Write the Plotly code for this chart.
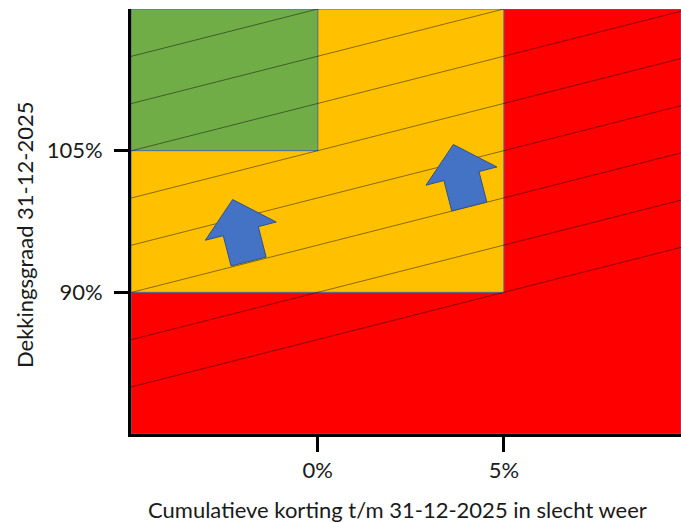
import math
import plotly.graph_objects as go

# ---- data ----
x_range = [-5.02, 9.76]      # cumulatieve korting (%)
y_range = [75, 120]          # dekkingsgraad (%)
x_ticks = [0, 5]
x_tick_labels = ["0%", "5%"]
y_ticks = [90, 105]
y_tick_labels = ["90%", "105%"]

# zones: (x0, x1, y0, y1, colour)
zone_names = ["rood", "oranje", "groen"]
zone_x0 = [-5.02, -5.02, -5.02]
zone_x1 = [9.76, 5, 0]
zone_y0 = [75, 90, 105]
zone_y1 = [120, 120, 120]
zone_colors = ["#FF0000", "#FFC000", "#70AD47"]

# diagonal hatch lines: y = x + c
hatch_offsets = [85, 90, 95, 100, 105, 110, 115, 120]

# arrows (base position in data units)
arrow_x = [-1.86, 4.07]
arrow_y = [93.26, 99.09]

FONT = "Lato"

fig = go.Figure()

# hatch lines as traces
for c in hatch_offsets:
    xs = [x_range[0], x_range[1]]
    ys = [x + c for x in xs]
    fig.add_trace(go.Scatter(x=xs, y=ys, mode="lines",
                             line=dict(color="rgba(0,0,0,0.5)", width=0.9),
                             hoverinfo="skip", showlegend=False))

shapes = []
for x0, x1, y0, y1, col in zip(zone_x0, zone_x1, zone_y0, zone_y1, zone_colors):
    shapes.append(dict(type="rect", xref="x", yref="y", x0=x0, x1=x1, y0=y0, y1=y1,
                       fillcolor=col, line=dict(color="#41719C", width=1), layer="below"))

# arrow outline in local pixel frame (u right, v up), rotated to be perpendicular to hatch
theta = math.radians(14.4)
local = [(-18.1, 0), (-18.1, 31.4), (-36.6, 31.4), (0, 64), (36.6, 31.4), (18.1, 31.4), (18.1, 0)]
pts = []
for u, v in local:
    px = u * math.cos(theta) - v * math.sin(theta)
    py = u * math.sin(theta) + v * math.cos(theta)
    pts.append((px, py))
path = "M " + " L ".join(f"{px:.2f},{py:.2f}" for px, py in pts) + " Z"
for ax_, ay_ in zip(arrow_x, arrow_y):
    shapes.append(dict(type="path", xref="x", yref="y", xsizemode="pixel", ysizemode="pixel",
                       xanchor=ax_, yanchor=ay_, path=path,
                       fillcolor="#4472C4", line=dict(color="#2F528F", width=1), layer="above"))

fig.update_layout(
    width=681, height=523,
    margin=dict(l=131, r=0, t=9, b=89),
    paper_bgcolor="white", plot_bgcolor="#FF0000",
    showlegend=False,
    shapes=shapes,
    font=dict(family=FONT, size=22, color="#1a1a1a"),
    xaxis=dict(range=x_range, tickvals=x_ticks, ticktext=x_tick_labels,
               showgrid=False, zeroline=False, showline=True, linecolor="black", linewidth=3,
               ticks="outside", ticklen=15, tickwidth=3, tickcolor="black",
               tickfont=dict(family=FONT, size=22, color="#1a1a1a"), fixedrange=True),
    yaxis=dict(range=y_range, tickvals=y_ticks, ticktext=y_tick_labels,
               showgrid=False, zeroline=False, showline=True, linecolor="black", linewidth=3,
               ticks="outside", ticklen=14, tickwidth=3, tickcolor="black",
               ticklabelstandoff=7,
               tickfont=dict(family=FONT, size=22, color="#1a1a1a"), fixedrange=True),
    annotations=[
        dict(text="Cumulatieve korting t/m 31-12-2025 in slecht weer", xref="paper", yref="paper",
             x=(397 - 131) / 550, y=-(509 - 434) / 425, xanchor="center", yanchor="middle",
             showarrow=False, font=dict(family=FONT, size=22, color="#1a1a1a")),
        dict(text="Dekkingsgraad 31-12-2025", xref="paper", yref="paper",
             x=-(131 - 24) / 550, y=(434 - 235) / 425, xanchor="center", yanchor="middle",
             textangle=-90, showarrow=False, font=dict(family=FONT, size=22, color="#1a1a1a")),
    ],
)

fig.write_html("out.html", config={"displayModeBar": False},
               post_script="document.body.style.margin='0';document.body.style.overflow='hidden';")
